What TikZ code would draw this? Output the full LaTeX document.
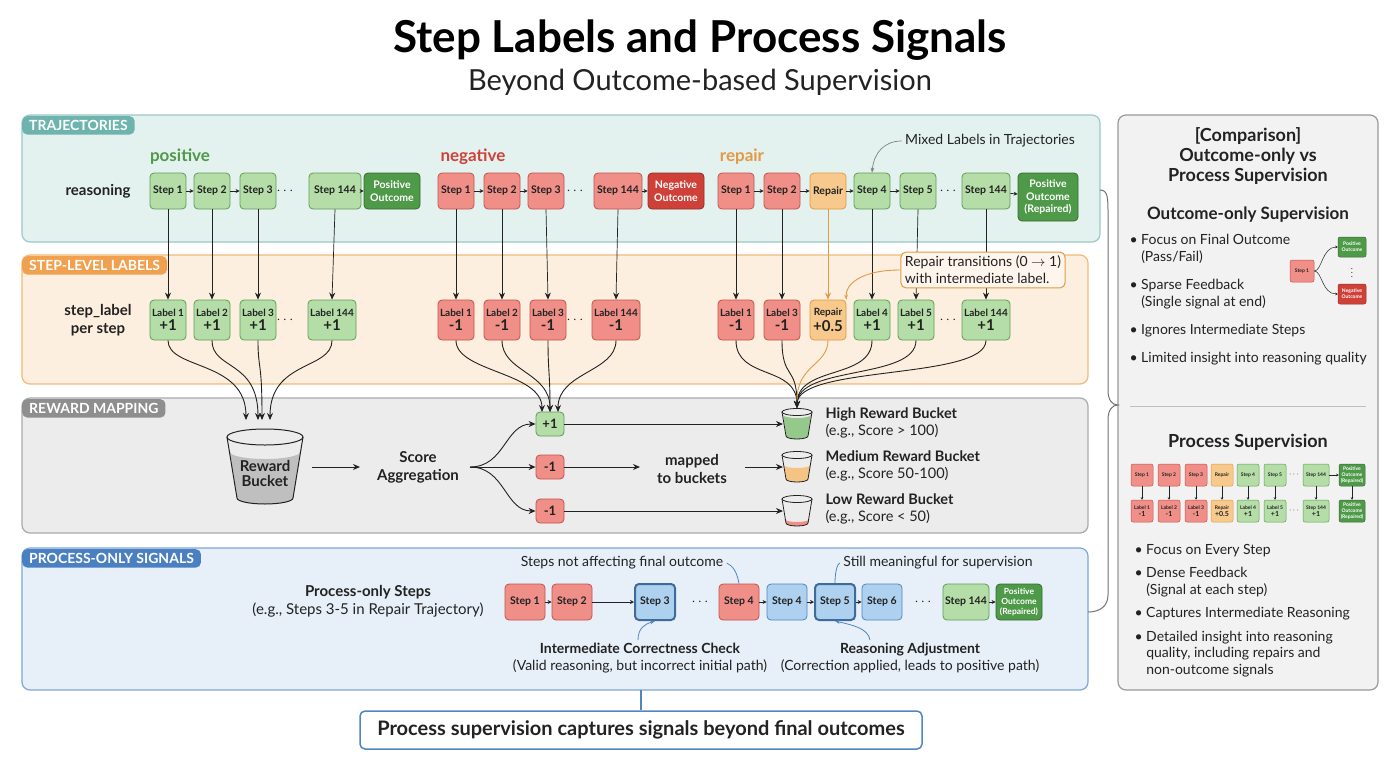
\documentclass[tikz,border=0pt]{standalone}
\usepackage{fontspec}
\setmainfont{Lato}
\usetikzlibrary{arrows.meta}
\definecolor{gfill}{HTML}{B4DDA8}\definecolor{gdraw}{HTML}{5E9E55}
\definecolor{rfill}{HTML}{EF8F88}\definecolor{rdraw}{HTML}{C2524B}
\definecolor{ofill}{HTML}{F7C98C}\definecolor{odraw}{HTML}{E29A45}
\definecolor{dgfill}{HTML}{4E9A48}\definecolor{drfill}{HTML}{CF4138}
\definecolor{bfill}{HTML}{AED1EF}\definecolor{bdraw}{HTML}{4F86C2}
\definecolor{tbg}{HTML}{E3F1EF}\definecolor{tdr}{HTML}{9CC9C5}\definecolor{ttag}{HTML}{6DB3AE}
\definecolor{lbg}{HTML}{FDEFDF}\definecolor{ldr}{HTML}{F2B97A}\definecolor{ltag}{HTML}{F0A04E}
\definecolor{mbg}{HTML}{ECECEC}\definecolor{mdr}{HTML}{AAAAAA}\definecolor{mtag}{HTML}{8E8E8E}
\definecolor{pbg}{HTML}{E7EFF9}\definecolor{pdr}{HTML}{7FA8D6}\definecolor{ptag}{HTML}{4A80C2}
\definecolor{txt}{HTML}{222222}
\newcommand\fs[1]{\fontsize{#1}{\fpeval{1.2*#1}}\selectfont}
\newcommand\cupdraw[4]{% x, ytop, liquid color, liquid top offset
  \fill[#3] (#1-14+#4*0.08,#2+#4) -- (#1-11,#2+24) arc[start angle=180,end angle=0,x radius=11,y radius=3] -- (#1+14-#4*0.08,#2+#4) arc[start angle=0,end angle=180,x radius=14-#4*0.08,y radius=3];
  \draw[line width=0.8pt,txt] (#1,#2) ellipse[x radius=15,y radius=3.5];
  \draw[line width=0.8pt,txt] (#1-15,#2) -- (#1-11,#2+24) arc[start angle=180,end angle=0,x radius=11,y radius=3] -- (#1+15,#2);}
\begin{document}
\begin{tikzpicture}[x=1pt,y=-1pt,
  box/.style={rounded corners=4pt,draw,line width=0.8pt,minimum height=36pt,minimum width=36pt,inner sep=1pt,align=center,font=\fs{10.5}\bfseries,text=txt},
  g/.style={box,fill=gfill,draw=gdraw},
  r/.style={box,fill=rfill,draw=rdraw},
  o/.style={box,fill=ofill,draw=odraw},
  bl/.style={box,fill=bfill,draw=bdraw},
  blt/.style={bl,line width=2pt,draw=bdraw!80!black},
  dg/.style={box,fill=dgfill,draw=dgfill!70!black,text=white,font=\fs{10.5}\bfseries,minimum width=56pt},
  dr/.style={box,fill=drfill,draw=drfill!70!black,text=white,font=\fs{10.5}\bfseries,minimum width=56pt},
  lb/.style={minimum height=40pt,font=\fs{10}\bfseries},
  sa/.style={-{Stealth[length=4pt,width=4pt]},line width=0.7pt,txt},
  ar/.style={-{Stealth[length=7pt,width=6pt]},line width=0.9pt,txt},
  panel/.style={rounded corners=8pt,line width=1.2pt},
  tag/.style={rounded corners=5pt,text=white,font=\fs{14}\bfseries,inner xsep=7pt,inner ysep=4pt,anchor=north west},
  dots/.style={font=\fs{14}\bfseries,text=txt},
  bul/.style={anchor=west,font=\fs{14},text=txt,align=left},
  mini/.style={rounded corners=2pt,draw,line width=0.5pt,minimum width=22pt,minimum height=22pt,inner sep=0pt,align=center,font=\fs{5}\bfseries,text=txt},
  mg/.style={mini,fill=gfill,draw=gdraw},mr/.style={mini,fill=rfill,draw=rdraw},mo/.style={mini,fill=ofill,draw=odraw},
  mdg/.style={mini,fill=dgfill,draw=dgfill!70!black,text=white},mdr/.style={mini,fill=drfill,draw=drfill!70!black,text=white},
  msa/.style={-{Stealth[length=2.5pt,width=2.5pt]},line width=0.5pt,txt}]
\useasboundingbox (0,0) rectangle (1400,764);
\fill[white] (0,0) rectangle (1400,764);
% titles
\node[font=\fs{44}\bfseries,text=black] (title) at (700,40) {Step Labels and Process Signals};
\node[font=\fs{29},text=txt] (sub) at (700,82) {Beyond Outcome-based Supervision};
% panels
\draw[panel,fill=tbg,draw=tdr] (22,115) rectangle (1100,242);
\draw[panel,fill=lbg,draw=ldr] (22,255) rectangle (1088,384);
\draw[panel,fill=mbg,draw=mdr] (22,398) rectangle (1088,533);
\draw[panel,fill=pbg,draw=pdr] (22,548) rectangle (1088,690);
\draw[panel,fill=black!5,draw=black!40] (1118,115) rectangle (1378,690);
\node[tag,fill=ttag] (t1) at (22,116) {TRAJECTORIES};
\node[tag,fill=ltag] (t2) at (22,256) {STEP-LEVEL LABELS};
\node[tag,fill=mtag] (t3) at (22,399) {REWARD MAPPING};
\node[tag,fill=ptag] (t4) at (22,549) {PROCESS-ONLY SIGNALS};
% row labels
\node[font=\fs{17}\bfseries,text=dgfill] (lpos) at (180,157) {positive};
\node[font=\fs{17}\bfseries,text=drfill] (lneg) at (473,157) {negative};
\node[font=\fs{17}\bfseries,text=odraw] (lrep) at (742,157) {repair};
\node[font=\fs{15}\bfseries,text=txt] (reas) at (98,191) {reasoning};
\node[font=\fs{15}\bfseries,text=txt,align=center] (spl) at (98,320) {step\_label\\per step};
% trajectories
\node[g] (p1) at (168,191) {Step 1};
\node[g] (p2) at (212,191) {Step 2};
\node[g] (p3) at (258,191) {Step 3};
\node[dots] (pd) at (285,191) {$\cdots$};
\node[g,minimum width=52pt] (p4) at (335,191) {Step 144};
\node[dg] (po) at (392,191) {Positive\\Outcome};
\draw[sa] (p1)--(p2); \draw[sa] (p2)--(p3); \draw[sa] (p4)--(po);
\node[r] (n1) at (456,191) {Step 1};
\node[r] (n2) at (502,191) {Step 2};
\node[r] (n3) at (546,191) {Step 3};
\node[dots] (nd) at (575,191) {$\cdots$};
\node[r,minimum width=48pt] (n4) at (618,191) {Step 144};
\node[dr] (no) at (676,191) {Negative\\Outcome};
\draw[sa] (n1)--(n2); \draw[sa] (n2)--(n3); \draw[sa] (n4)--(no);
\node[r] (r1) at (736,191) {Step 1};
\node[r] (r2) at (782,191) {Step 2};
\node[o] (r3) at (828,191) {Repair};
\node[g] (r4) at (872,191) {Step 4};
\node[g] (r5) at (918,191) {Step 5};
\node[dots] (rd) at (948,191) {$\cdots$};
\node[g,minimum width=48pt] (r6) at (986,191) {Step 144};
\node[dg,minimum width=60pt,minimum height=48pt] (ro) at (1048,197) {Positive\\Outcome\\(Repaired)};
\draw[sa] (r1)--(r2); \draw[sa] (r2)--(r3); \draw[sa] (r3)--(r4); \draw[sa] (r4)--(r5); \draw[sa] (r6)--(ro);
\node[font=\fs{14},text=txt] (mixed) at (990,141) {Mixed Labels in Trajectories};
\draw[-{Stealth[length=5pt]},line width=0.7pt,black!50] (mixed.west) .. controls (885,141) and (874,152) .. (r4.north);
% labels
\node[g,lb] (pl1) at (168,320) {Label 1\\[2pt]{\fs{15}+1}};
\node[g,lb] (pl2) at (212,320) {Label 2\\[2pt]{\fs{15}+1}};
\node[g,lb] (pl3) at (258,320) {Label 3\\[2pt]{\fs{15}+1}};
\node[dots] (pld) at (285,320) {$\cdots$};
\node[g,lb,minimum width=48pt] (pl4) at (332,320) {Label 144\\[2pt]{\fs{15}+1}};
\node[r,lb] (nl1) at (456,320) {Label 1\\[2pt]{\fs{15}-1}};
\node[r,lb] (nl2) at (502,320) {Label 2\\[2pt]{\fs{15}-1}};
\node[r,lb] (nl3) at (548,320) {Label 3\\[2pt]{\fs{15}-1}};
\node[dots] (nld) at (575,320) {$\cdots$};
\node[r,lb,minimum width=48pt] (nl4) at (616,320) {Label 144\\[2pt]{\fs{15}-1}};
\node[r,lb] (rl1) at (736,320) {Label 1\\[2pt]{\fs{15}-1}};
\node[r,lb] (rl2) at (782,320) {Label 3\\[2pt]{\fs{15}-1}};
\node[o,lb] (rl3) at (828,320) {Repair\\[2pt]{\fs{15}+0.5}};
\node[g,lb] (rl4) at (872,320) {Label 4\\[2pt]{\fs{15}+1}};
\node[g,lb] (rl5) at (916,320) {Label 5\\[2pt]{\fs{15}+1}};
\node[dots] (rld) at (948,320) {$\cdots$};
\node[g,lb,minimum width=48pt] (rl6) at (986,320) {Label 144\\[2pt]{\fs{15}+1}};
% vertical arrows
\foreach \a/\b in {p1/pl1,p2/pl2,p3/pl3,p4/pl4,n1/nl1,n2/nl2,n3/nl3,n4/nl4,r1/rl1,r2/rl2,r4/rl4,r5/rl5,r6/rl6}
  \draw[ar,line width=0.7pt] (\a.south) -- (\b.north);
\draw[-{Stealth[length=7pt,width=6pt]},line width=0.9pt,odraw] (r3.south) -- (rl3.north);
\node[rounded corners=5pt,draw=odraw,fill=lbg!60!white,line width=1pt,align=left,font=\fs{14},text=txt,inner sep=4pt] (rt) at (983,270) {Repair transitions (0 $\to$ 1)\\with intermediate label.};
\draw[-{Stealth[length=5pt]},line width=0.9pt,odraw] (rt.west) .. controls (860,270) and (845,285) .. (rl3.north east);
% reward mapping
\fill[black!25] (230,452) -- (237,498) arc[start angle=180,end angle=0,x radius=28,y radius=6] -- (300,452) arc[start angle=0,end angle=180,x radius=35,y radius=7];
\draw[line width=1pt,txt] (265,437) ellipse[x radius=38,y radius=8];
\draw[line width=1pt,txt] (227,437) -- (237,498) arc[start angle=180,end angle=0,x radius=28,y radius=6] -- (303,437);
\node[font=\fs{15}\bfseries,text=txt,align=center] (rb) at (265,473) {Reward\\[-3pt]Bucket};
\coordinate (rbt1) at (246,420); \coordinate (rbt2) at (258,420); \coordinate (rbt3) at (270,420); \coordinate (rbt4) at (262,420);
\draw[ar] (pl1.south) .. controls (168,370) and (246,360) .. (rbt1);
\draw[ar] (pl2.south) .. controls (212,370) and (258,360) .. (rbt2);
\draw[ar] (pl3.south) .. controls (258,370) and (262,360) .. (rbt4);
\draw[ar] (pl4.south) .. controls (332,370) and (270,360) .. (rbt3);
\node[g,minimum width=28pt,minimum height=24pt,font=\fs{13}\bfseries] (sp) at (550,424) {+1};
\node[r,minimum width=28pt,minimum height=24pt,font=\fs{13}\bfseries] (sm) at (550,467) {-1};
\node[r,minimum width=28pt,minimum height=24pt,font=\fs{13}\bfseries] (sl) at (550,511) {-1};
\coordinate (sp1) at (542,412); \coordinate (sp2) at (550,412); \coordinate (sp3) at (558,412);
\draw[ar] (nl1.south) .. controls (456,372) and (542,372) .. (sp1);
\draw[ar] (nl2.south) .. controls (502,372) and (550,372) .. (sp2);
\draw[ar] (nl3.south) .. controls (548,372) and (550,372) .. (sp2);
\draw[ar] (nl4.south) .. controls (616,372) and (558,372) .. (sp3);
\coordinate (hb) at (797,408);
\foreach \s/\xx in {rl1/736,rl2/782,rl4/872,rl5/916,rl6/986}
  \draw[ar] (\s.south) .. controls (\xx,380) and (797,365) .. (hb);
\draw[odraw,line width=0.9pt] (rl3.south) .. controls (828,365) and (797,365) .. (797,400);
\node[font=\fs{15}\bfseries,text=txt,align=center] (sa) at (418,467) {Score\\Aggregation};
\coordinate (rbe) at (312,467);
\draw[ar] (rbe) -- (360,467);
\coordinate (fan) at (470,467);
\draw[ar] (fan) .. controls (505,467) and (505,424) .. (sp.west);
\draw[ar] (fan) -- (sm.west);
\draw[ar] (fan) .. controls (505,467) and (505,511) .. (sl.west);
\node[font=\fs{15}\bfseries,text=txt,align=center] (mtb) at (692,469) {mapped\\to buckets};
\coordinate (hbk) at (783,424); \coordinate (mbk) at (783,467); \coordinate (lbk) at (783,511);
\draw[ar] (sp.east) -- (hbk);
\draw[ar] (sm.east) -- (640,467);
\draw[ar] (745,467) -- (mbk);
\draw[ar] (sl.east) -- (lbk);
\cupdraw{797}{412}{gfill!70!dgfill}{3}
\cupdraw{797}{455}{ofill!90!odraw}{10}
\cupdraw{797}{499}{rfill}{20}
\node[anchor=west,font=\fs{14.5},text=txt,align=left] (hbt) at (822,423) {\textbf{High Reward Bucket}\\(e.g., Score > 100)};
\node[anchor=west,font=\fs{14.5},text=txt,align=left] (mbt) at (822,466) {\textbf{Medium Reward Bucket}\\(e.g., Score 50-100)};
\node[anchor=west,font=\fs{14.5},text=txt,align=left] (lbt) at (822,509) {\textbf{Low Reward Bucket}\\(e.g., Score < 50)};
% process-only
\node[font=\fs{15},text=txt,align=center] (pos) at (368,601) {\textbf{Process-only Steps}\\(e.g., Steps 3-5 in Repair Trajectory)};
\node[r,minimum width=40pt] (q1) at (525,602) {Step 1};
\node[r,minimum width=40pt] (q2) at (572,602) {Step 2};
\node[blt,minimum width=40pt] (q3) at (655,602) {Step 3};
\node[dots] (qd1) at (700,602) {$\cdots$};
\node[r,minimum width=40pt] (q4) at (739,602) {Step 4};
\node[bl,minimum width=40pt] (q5) at (787,602) {Step 4};
\node[blt,minimum width=40pt] (q6) at (835,602) {Step 5};
\node[bl,minimum width=40pt] (q7) at (882,602) {Step 6};
\node[dots] (qd2) at (923,602) {$\cdots$};
\node[g,minimum width=46pt] (q8) at (966,602) {Step 144};
\node[dg,minimum width=46pt,font=\fs{8.5}\bfseries] (q9) at (1019,602) {Positive\\Outcome\\(Repaired)};
\draw[sa] (q1)--(q2); \draw[sa] (q2)--(q3); \draw[sa] (q4)--(q5); \draw[sa] (q5)--(q6); \draw[sa] (q6)--(q7); \draw[sa] (q8)--(q9);
\node[font=\fs{14},text=txt] (snf) at (622,563) {Steps not affecting final outcome};
\draw[line width=0.8pt,bdraw] (snf.east) .. controls (733,566) and (737,572) .. (q4.north);
\node[font=\fs{14},text=txt] (smf) at (938,563) {Still meaningful for supervision};
\draw[line width=0.8pt,bdraw] (q6.north) .. controls (835,570) and (838,563) .. (smf.west);
\node[font=\fs{14},text=txt,align=center] (icc) at (640,658) {\textbf{Intermediate Correctness Check}\\(Valid reasoning, but incorrect initial path)};
\draw[-{Stealth[length=5pt]},line width=0.8pt,bdraw] (638,640) .. controls (638,628) and (645,624) .. (q3.south);
\node[font=\fs{14},text=txt,align=center] (ra) at (910,658) {\textbf{Reasoning Adjustment}\\(Correction applied, leads to positive path)};
\draw[-{Stealth[length=5pt]},line width=0.8pt,bdraw] (870,640) .. controls (868,628) and (852,625) .. (q6.south);
% bottom
\node[rounded corners=5pt,draw=bdraw,line width=1.5pt,fill=white,minimum width=562pt,minimum height=38pt,font=\fs{20}\bfseries,text=txt] (bot) at (641,730) {Process supervision captures signals beyond final outcomes};
\draw[line width=1.5pt,bdraw] (641,690) -- (bot.north);
% brace
\draw[line width=1pt,black!55] (1100,190) .. controls (1108,190) and (1108,198) .. (1108,215) -- (1108,390) .. controls (1108,400) and (1112,405) .. (1118,405) .. controls (1112,405) and (1108,410) .. (1108,420) -- (1108,595) .. controls (1108,606) and (1100,612) .. (1088,612);
% right panel
\node[font=\fs{18}\bfseries,text=txt,align=center] (cmp) at (1248,156) {[Comparison]\\[-2pt]Outcome-only vs\\[-2pt]Process Supervision};
\node[font=\fs{17}\bfseries,text=txt] (oos) at (1248,215) {Outcome-only Supervision};
\node[bul] (b1) at (1126,249) {\textbullet\ Focus on Final Outcome\\\phantom{\textbullet\ }(Pass/Fail)};
\node[bul] (b2) at (1126,294) {\textbullet\ Sparse Feedback\\\phantom{\textbullet\ }(Single signal at end)};
\node[bul] (b3) at (1126,331) {\textbullet\ Ignores Intermediate Steps};
\node[bul] (b4) at (1126,359) {\textbullet\ Limited insight into reasoning quality};
\node[mr,minimum width=24pt] (ms1) at (1302,271) {Step 1};
\node[mdg,minimum width=28pt,minimum height=20pt] (mpo) at (1352,247) {Positive\\Outcome};
\node[mdr,minimum width=28pt,minimum height=20pt] (mno) at (1352,294) {Negative\\Outcome};
\node[font=\fs{7}\bfseries,text=txt,inner sep=0pt] (mdots) at (1352,270) {$\vdots$};
\draw[msa] (ms1.east) .. controls (1322,271) and (1322,247) .. (mpo.west);
\draw[msa] (ms1.east) .. controls (1322,271) and (1322,294) .. (mno.west);
\draw[line width=0.8pt,black!25] (1130,406) -- (1366,406);
\node[font=\fs{18}\bfseries,text=txt] (ps) at (1248,442) {Process Supervision};
\node[mr] (a1) at (1142,475) {Step 1}; \node[mr] (a2) at (1169,475) {Step 2}; \node[mr] (a3) at (1196,475) {Step 3};
\node[mo] (a4) at (1222,475) {Repair}; \node[mg] (a5) at (1248,475) {Step 4}; \node[mg] (a6) at (1275,475) {Step 5};
\node[font=\fs{8}\bfseries] (ad) at (1294,475) {$\cdots$};
\node[mg,minimum width=26pt] (a7) at (1316,475) {Step 144}; \node[mdg,minimum width=26pt] (a8) at (1352,475) {Positive\\Outcome\\(Repaired)};
\node[mr] (c1) at (1142,511) {Label 1\\[1pt]{\fs{7}-1}}; \node[mr] (c2) at (1169,511) {Label 2\\[1pt]{\fs{7}-1}}; \node[mr] (c3) at (1196,511) {Label 3\\[1pt]{\fs{7}-1}};
\node[mo] (c4) at (1222,511) {Repair\\[1pt]{\fs{7}+0.5}}; \node[mg] (c5) at (1248,511) {Label 4\\[1pt]{\fs{7}+1}}; \node[mg] (c6) at (1275,511) {Label 5\\[1pt]{\fs{7}+1}};
\node[font=\fs{8}\bfseries] (cd) at (1294,511) {$\cdots$};
\node[mg,minimum width=26pt] (c7) at (1316,511) {Step 144\\[1pt]{\fs{7}+1}}; \node[mdg,minimum width=26pt] (c8) at (1352,511) {Positive\\Outcome\\(Repaired)};
\foreach \i in {1,...,8} \draw[msa] (a\i.south) -- (c\i.north);
\draw[msa] (a7)--(a8);
\node[bul] (e1) at (1131,551) {\textbullet\ Focus on Every Step};
\node[bul] (e2) at (1131,582) {\textbullet\ Dense Feedback\\\phantom{\textbullet\ }(Signal at each step)};
\node[bul] (e3) at (1131,614) {\textbullet\ Captures Intermediate Reasoning};
\node[bul] (e4) at (1131,654) {\textbullet\ Detailed insight into reasoning\\\phantom{\textbullet\ }quality, including repairs and\\\phantom{\textbullet\ }non-outcome signals};
\end{tikzpicture}
\end{document}
